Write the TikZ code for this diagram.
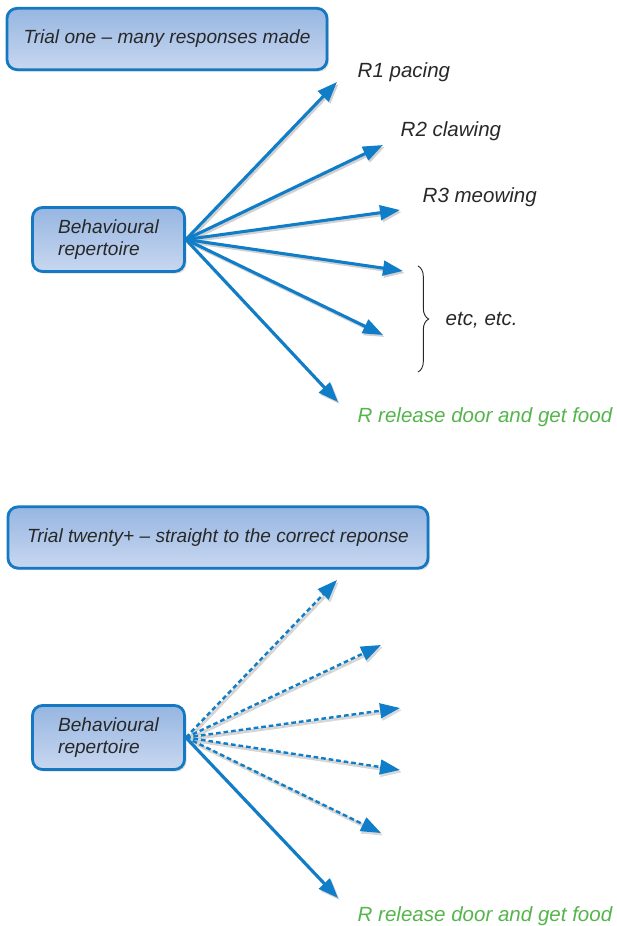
\documentclass[tikz,border=0pt]{standalone}
\usepackage{fontspec}
\setmainfont{Liberation Sans}
\usetikzlibrary{arrows.meta,shadows,decorations.pathreplacing}
\definecolor{boxblue}{RGB}{20,120,195}
\definecolor{boxtop}{RGB}{150,182,225}
\definecolor{boxbot}{RGB}{200,215,240}
\definecolor{arrowblue}{RGB}{15,125,200}
\definecolor{foodgreen}{RGB}{85,180,75}
\definecolor{textgrey}{RGB}{40,40,40}
\begin{document}
\begin{tikzpicture}[x=0.75pt, y=-0.75pt,
    box/.style={rectangle, rounded corners=7.5pt, draw=boxblue, line width=2.1pt, top color=boxtop, bottom color=boxbot, align=left, font=\fontsize{14.3}{16}\selectfont\itshape, text=textgrey, drop shadow={shadow xshift=1.5pt, shadow yshift=-1.5pt, fill=black!25}},
    trialbox/.style={box, minimum height=46pt},
    repbox/.style={box, minimum width=114pt, minimum height=48pt},
    resp/.style={anchor=west, font=\fontsize{15.4}{17}\selectfont\itshape, text=textgrey},
    food/.style={resp, text=foodgreen},
    arrow/.style={-{Triangle[length=15pt, width=11pt]}, arrowblue, line width=2.3pt, preaction={draw=black!18, line width=2.3pt, transform canvas={xshift=1.2pt, yshift=-1.5pt}}},
    dasharrow/.style={arrow, line width=1.8pt, dash pattern=on 3.5pt off 2.2pt, preaction={draw=black!15, line width=1.8pt, dash pattern=on 3.5pt off 2.2pt, transform canvas={xshift=0.8pt, yshift=-1.8pt}}}
]
\useasboundingbox (0,0) rectangle (617,926);
% Trial one
\node[trialbox, minimum width=240pt] (trial1) at (167, 39) {Trial one -- many responses made};
\node[repbox] (rep1) at (108.5, 239.5) {Behavioural\\repertoire};
\node[resp] (r1) at (353, 72) {R1 pacing};
\node[resp] (r2) at (396, 131) {R2 clawing};
\node[resp] (r3) at (418, 197) {R3 meowing};
\node[resp] (etc) at (441, 320) {etc, etc.};
\node[food] (food1) at (353, 417) {R release door and get food};
\coordinate (a1) at (337, 82);
\coordinate (a2) at (383, 145);
\coordinate (a3) at (400, 210);
\coordinate (a4) at (403, 271);
\coordinate (a5) at (383, 335);
\coordinate (a6) at (338, 402);
\foreach \t in {a1,a2,a3,a4,a5,a6}
    \draw[arrow] (rep1.east) -- (\t);
\draw[textgrey, line width=0.7pt, decorate, decoration={brace, amplitude=8pt}] (418, 266) -- (418, 372);
% Trial twenty+
\node[trialbox, minimum width=315pt] (trial2) at (218, 537.5) {Trial twenty+ -- straight to the correct reponse};
\node[repbox] (rep2) at (108.5, 737.5) {Behavioural\\repertoire};
\node[food] (food2) at (353, 916) {R release door and get food};
\coordinate (b1) at (337, 580);
\coordinate (b2) at (381, 645);
\coordinate (b3) at (400, 708);
\coordinate (b4) at (400, 770);
\coordinate (b5) at (381, 833);
\coordinate (b6) at (338, 898);
\foreach \t in {b1,b2,b3,b4,b5}
    \draw[dasharrow] (rep2.east) -- (\t);
\draw[arrow] (rep2.east) -- (b6);
\end{tikzpicture}
\end{document}
